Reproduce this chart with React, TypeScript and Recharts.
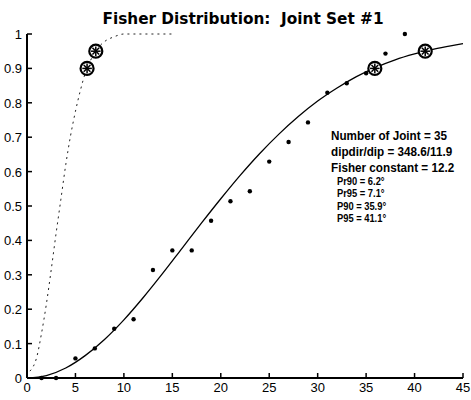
import React from "react";
import {
  ComposedChart,
  Line,
  Scatter,
  XAxis,
  YAxis,
} from "recharts";

// observed cumulative frequency of the 35 joints (angle from mean pole, deg)
const obsAngle = [1.5, 3, 5, 7, 9, 11, 13, 15, 17, 19, 21, 23, 25, 27, 29, 31, 33, 35, 37, 39];
const obsFreq = [0, 0, 0.057, 0.086, 0.143, 0.171, 0.314, 0.371, 0.371, 0.457, 0.514, 0.543, 0.629, 0.686, 0.743, 0.829, 0.857, 0.886, 0.943, 1.0];

// fitted Fisher curve (solid)
const fitAngle = [0, 2, 4, 6, 8, 10, 12, 14, 16, 18, 20, 22, 24, 26, 28, 30, 32, 34, 36, 38, 40, 42, 44, 45];
const fitFreq = [0, 0.007, 0.029, 0.065, 0.112, 0.169, 0.234, 0.304, 0.377, 0.45, 0.521, 0.589, 0.652, 0.709, 0.76, 0.805, 0.843, 0.876, 0.903, 0.925, 0.942, 0.956, 0.967, 0.972];

// confidence cone of the mean (dotted)
const meanAngle = [0.3, 1, 1.5, 2, 2.5, 3, 3.5, 4, 4.5, 5, 5.5, 6, 6.5, 7, 7.5, 8, 9, 10, 11, 12, 13, 14, 15];
const meanFreq = [0.02, 0.06, 0.13, 0.215, 0.315, 0.42, 0.52, 0.62, 0.705, 0.775, 0.835, 0.885, 0.92, 0.945, 0.965, 0.978, 0.992, 1, 1, 1, 1, 1, 1];

// Pr90, Pr95, P90, P95
const confAngle = [6.2, 7.1, 35.9, 41.1];
const confFreq = [0.9, 0.95, 0.9, 0.95];

const xTicks = [0, 5, 10, 15, 20, 25, 30, 35, 40, 45];
const yTicks = [0, 0.1, 0.2, 0.3, 0.4, 0.5, 0.6, 0.7, 0.8, 0.9, 1];

const infoLines = ["Number of Joint = 35", "dipdir/dip = 348.6/11.9", "Fisher constant = 12.2"];
const coneLines = ["Pr90 = 6.2°", "Pr95 = 7.1°", "P90 = 35.9°", "P95 = 41.1°"];

const toPts = (xs: number[], ys: number[]) => xs.map((x, i) => ({ x, y: ys[i] }));

const FONT = "'Liberation Sans', Arial, sans-serif";
const HEAVY = "'DejaVu Sans', 'Liberation Sans', sans-serif";

function XTick(props: any) {
  const { x, y, payload } = props;
  return (
    <g>
      <line x1={x} x2={x} y1={y} y2={y - 5} stroke="#000" strokeWidth={1.5} />
      <text x={x} y={y + 14} textAnchor="middle" fontSize={13} fontFamily={FONT} fill="#000">
        {payload.value}
      </text>
    </g>
  );
}

function YTick(props: any) {
  const { x, y, payload } = props;
  return (
    <g>
      <line x1={x} x2={x + 5} y1={y} y2={y} stroke="#000" strokeWidth={1.5} />
      <text x={x - 5} y={y + 5} textAnchor="end" fontSize={13} fontFamily={FONT} fill="#000">
        {String(Number(payload.value.toFixed(1)))}
      </text>
    </g>
  );
}

function ConfMarker(props: any) {
  const { cx, cy } = props;
  const r = 6.5;
  const s = 4.8;
  return (
    <g>
      <circle cx={cx} cy={cy} r={r} fill="#fff" stroke="#000" strokeWidth={2.2} />
      <line x1={cx - s} x2={cx + s} y1={cy} y2={cy} stroke="#000" strokeWidth={1.5} />
      <line x1={cx} x2={cx} y1={cy - s} y2={cy + s} stroke="#000" strokeWidth={1.5} />
      <line x1={cx - s * 0.7} x2={cx + s * 0.7} y1={cy - s * 0.7} y2={cy + s * 0.7} stroke="#000" strokeWidth={1.5} />
      <line x1={cx - s * 0.7} x2={cx + s * 0.7} y1={cy + s * 0.7} y2={cy - s * 0.7} stroke="#000" strokeWidth={1.5} />
    </g>
  );
}

function Dot(props: any) {
  const { cx, cy } = props;
  return <circle cx={cx} cy={cy} r={2.2} fill="#000" />;
}

function Narrow({ x, y, size, sx, children }: any) {
  return (
    <text
      transform={`translate(${x},${y}) scale(${sx},1)`}
      fontSize={size}
      fontWeight="bold"
      fontFamily={FONT}
      fill="#000"
    >
      {children}
    </text>
  );
}

export default function App() {
  return (
    <div style={{ position: "absolute", left: 0, top: 0, width: 471, height: 400, background: "#fff" }}>
      <ComposedChart width={471} height={400} margin={{ top: 34, right: 8, bottom: 0, left: 0 }}>
        <text x={243} y={24} textAnchor="middle" fontSize={15.3} fontWeight="bold" fontFamily={HEAVY} fill="#000">
          Fisher Distribution:{"\u00a0\u00a0"}Joint Set #1
        </text>
        <XAxis
          dataKey="x"
          type="number"
          domain={[0, 45]}
          ticks={xTicks}
          height={22}
          tickSize={0}
          tickMargin={0}
          tickLine={false}
          axisLine={{ stroke: "#000", strokeWidth: 2 }}
          tick={<XTick />}
          interval={0}
        />
        <YAxis
          dataKey="y"
          type="number"
          domain={[0, 1]}
          ticks={yTicks}
          width={27}
          tickSize={0}
          tickMargin={0}
          tickLine={false}
          axisLine={{ stroke: "#000", strokeWidth: 2 }}
          tick={<YTick />}
          interval={0}
        />
        <Line
          data={toPts(meanAngle, meanFreq)}
          dataKey="y"
          type="monotone"
          stroke="#222"
          strokeWidth={1}
          strokeDasharray="2 4"
          dot={false}
          isAnimationActive={false}
        />
        <Line
          data={toPts(fitAngle, fitFreq)}
          dataKey="y"
          type="monotone"
          stroke="#000"
          strokeWidth={1.3}
          dot={false}
          isAnimationActive={false}
        />
        <Scatter data={toPts(obsAngle, obsFreq)} dataKey="y" shape={<Dot />} isAnimationActive={false} />
        <Scatter data={toPts(confAngle, confFreq)} dataKey="y" shape={<ConfMarker />} isAnimationActive={false} />
        {infoLines.map((t, i) => (
          <Narrow key={t} x={331} y={140 + i * 15.8} size={13} sx={0.9}>
            {t}
          </Narrow>
        ))}
        {coneLines.map((t, i) => (
          <Narrow key={t} x={337} y={185 + i * 12.3} size={11} sx={0.85}>
            {t}
          </Narrow>
        ))}
      </ComposedChart>
    </div>
  );
}
